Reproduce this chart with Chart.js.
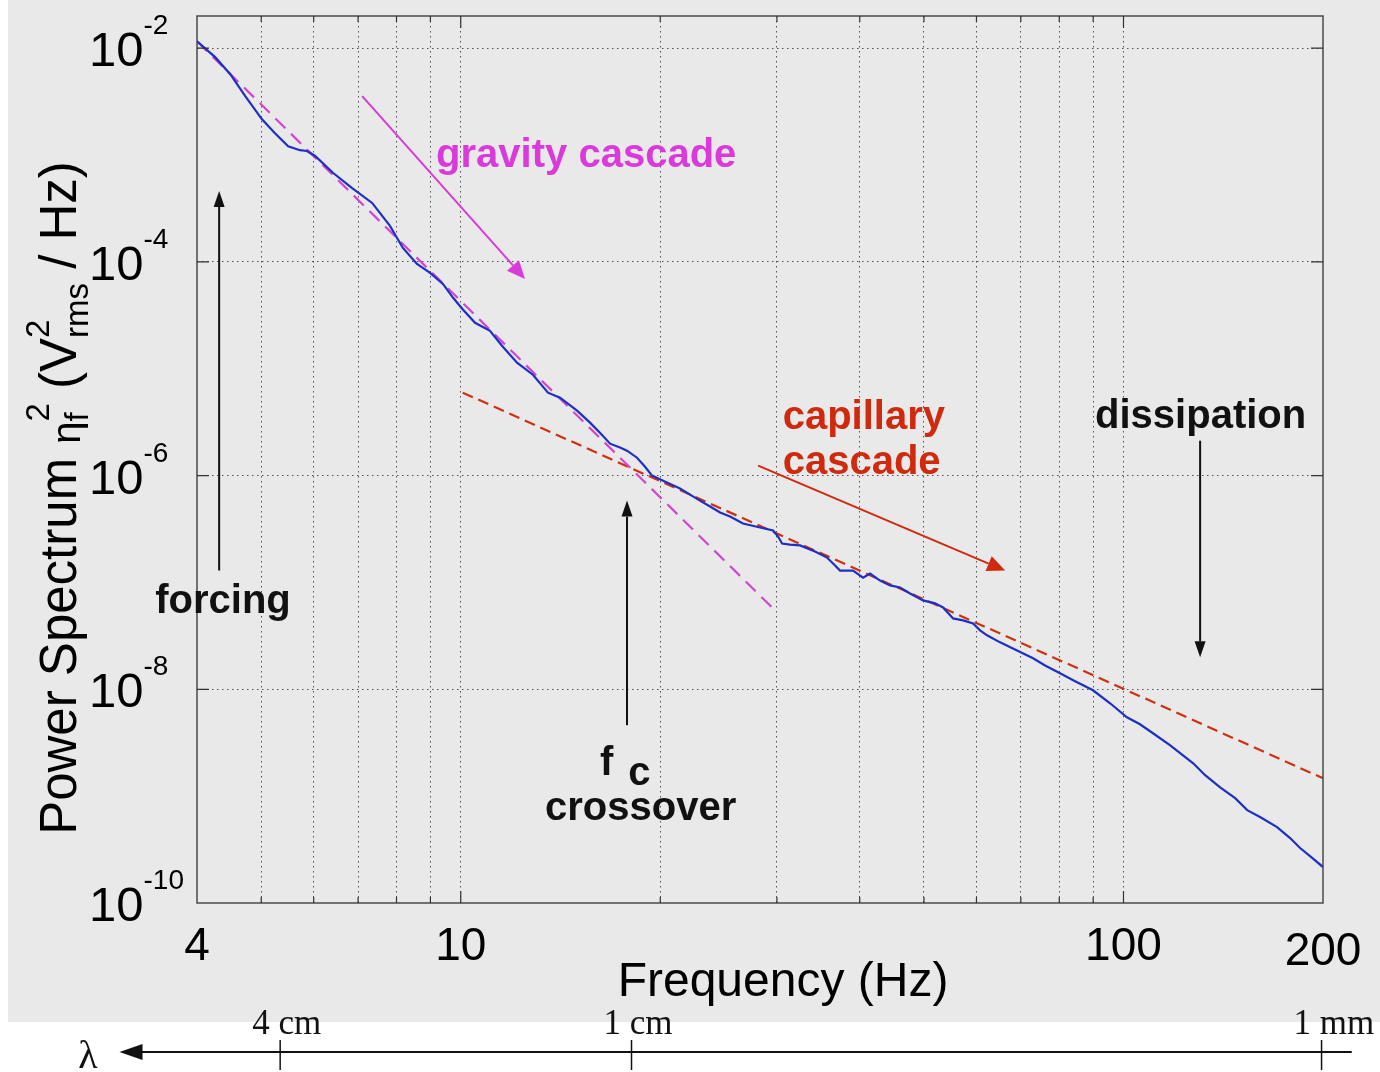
<!DOCTYPE html>
<html><head><meta charset="utf-8">
<script src="https://cdn.jsdelivr.net/npm/chart.js@4"></script>
<style>html,body{margin:0;padding:0;background:#fff}canvas{display:block}</style>
</head><body>
<canvas id="c" width="1380" height="1072"></canvas>
<script>
// ---- measured spectrum (Hz, V_rms^2/Hz) ----
const freq = [4.00,4.26,4.49,4.73,5.01,5.24,5.49,5.72,5.86,6.03,6.42,6.85,7.35,7.82,8.18,8.59,8.99,9.40,9.74,10.05,
  10.51,11.07,11.54,12.16,12.85,13.54,14.12,14.98,15.67,16.22,16.80,17.39,17.82,18.45,18.97,19.44,20.20,21.42,22.18,22.96,
  23.78,24.62,25.49,26.66,28.29,29.60,30.12,30.54,31.39,32.51,34.24,35.70,36.71,37.35,39.08,40.46,41.46,42.92,44.44,46.01,
  47.64,49.84,51.96,53.43,55.32,57.28,59.30,60.75,62.25,65.13,69.09,73.04,76.15,80.21,84.52,89.96,95.45,101.2,105.9,110.8,
  117.5,127.4,132.8,139.9,147.4,153.7,160.7,170.5,178.4,184.7,192.6,200];
const power = [1.16e-2,8.24e-3,5.71e-3,3.56e-3,2.17e-3,1.61e-3,1.21e-3,1.11e-3,1.09e-3,9.79e-4,6.79e-4,4.92e-4,3.56e-4,2.17e-4,1.35e-4,9.57e-5,7.89e-5,6.22e-5,4.61e-5,3.64e-5,
  2.69e-5,2.26e-5,1.64e-5,1.14e-5,8.79e-6,5.97e-6,5.36e-6,4.05e-6,3.13e-6,2.52e-6,1.99e-6,1.83e-6,1.71e-6,1.47e-6,1.21e-6,1.00e-6,8.97e-7,7.57e-7,6.64e-7,5.83e-7,
  5.13e-7,4.51e-7,4.14e-7,3.56e-7,3.27e-7,3.06e-7,2.69e-7,2.31e-7,2.26e-7,2.22e-7,1.95e-7,1.71e-7,1.44e-7,1.29e-7,1.29e-7,1.11e-7,1.21e-7,1.04e-7,9.38e-8,8.97e-8,
  7.89e-8,6.79e-8,6.37e-8,5.83e-8,4.61e-8,4.42e-8,4.14e-8,3.56e-8,3.20e-8,2.75e-8,2.31e-8,1.95e-8,1.67e-8,1.41e-8,1.19e-8,9.79e-9,7.40e-9,5.47e-9,4.71e-9,3.88e-9,
  3.00e-9,2.03e-9,1.57e-9,1.21e-9,9.57e-10,7.40e-10,6.37e-10,5.13e-10,4.05e-10,3.27e-10,2.64e-10,2.17e-10];
// ---- power-law guides ----
const gravityFitFreq = [4, 29.5];
const gravityFitPower = [1.16e-2, 5.83e-8];
const capillaryFitFreq = [10.07, 200];
const capillaryFitPower = [5.97e-6, 1.47e-9];
// ---- axes ----
const xTickValues = [4, 10, 100, 200];
const xTickLabels = ['4', '10', '100', '200'];
const xGridValues = [5,6,7,8,9,10,20,30,40,50,60,70,80,90,100];
const xMajorValues = [10, 100];
const yTickValues = [1e-2, 1e-4, 1e-6, 1e-8, 1e-10];
const yTickExponents = ['-2', '-4', '-6', '-8', '-10'];
const yGridValues = [1e-2, 1e-4, 1e-6, 1e-8];
// ---- wavelength axis ----
const lambdaFreq = [5.34, 18.1, 199];
const lambdaLabels = ['4 cm', '1 cm', '1 mm'];
const lambdaAxisRange = [3.12, 221];
// ---- annotations ----
const arrowFromFreq = [7.10, 28.1, 130.5, 4.32, 17.82];
const arrowFromPower = [3.56e-3, 1.24e-6, 2.12e-6, 1.29e-7, 4.61e-9];
const arrowToFreq = [12.5, 66.3, 130.5, 4.32, 17.82];
const arrowToPower = [6.93e-5, 1.29e-7, 1.99e-8, 4.61e-4, 5.83e-7];
const noteText = ['gravity cascade', 'capillary', 'cascade', 'dissipation', 'forcing', 'f', 'c', 'crossover'];
const noteFreq = [9.18, 30.6, 30.6, 90.6, 3.46, 16.22, 17.9, 13.4];
const notePower = [7.73e-4, 2.75e-6, 1.04e-6, 2.80e-6, 5.13e-8, 1.57e-9, 1.27e-9, 5.97e-10];

const MAG = '#d93ad9', RED = '#cf2a0e', BLK = '#111111', BLUE = '#1d2fc4';
const arrowColor = [MAG, RED, BLK, BLK, BLK];
const noteColor = [MAG, RED, RED, BLK, BLK, BLK, BLK, BLK];

const SANS = '"Liberation Sans", Arial, Helvetica, sans-serif';
const SERIF = '"Liberation Serif", "Times New Roman", serif';

function pts(xs, ys) { return xs.map((v, i) => ({x: v, y: ys[i]})); }

function arrow(ctx, x1, y1, x2, y2, color, w, hl, hw) {
  const a = Math.atan2(y2 - y1, x2 - x1);
  const bx = x2 - hl * Math.cos(a), by = y2 - hl * Math.sin(a);
  ctx.save();
  ctx.strokeStyle = color; ctx.fillStyle = color; ctx.lineWidth = w; ctx.setLineDash([]);
  ctx.beginPath(); ctx.moveTo(x1, y1); ctx.lineTo(bx, by); ctx.stroke();
  ctx.beginPath();
  ctx.moveTo(x2, y2);
  ctx.lineTo(bx + hw * Math.sin(a), by - hw * Math.cos(a));
  ctx.lineTo(bx - hw * Math.sin(a), by + hw * Math.cos(a));
  ctx.closePath(); ctx.fill();
  ctx.restore();
}

const decor = {
  id: 'decor',
  beforeDraw(chart) {
    const ctx = chart.ctx;
    ctx.save();
    ctx.fillStyle = '#ffffff'; ctx.fillRect(0, 0, chart.width, chart.height);
    ctx.fillStyle = '#e9e9e9'; ctx.fillRect(8, 0, chart.width - 8, 1022);
    ctx.restore();
  },
  afterDraw(chart) {
    const ctx = chart.ctx, xs = chart.scales.x, ys = chart.scales.y, ca = chart.chartArea;
    ctx.save();
    // frame
    ctx.strokeStyle = '#4a4a4a'; ctx.lineWidth = 1.5; ctx.setLineDash([]);
    ctx.strokeRect(ca.left, ca.top, ca.right - ca.left, ca.bottom - ca.top);
    // tick marks
    ctx.strokeStyle = '#333'; ctx.lineWidth = 1.2;
    ctx.beginPath();
    yGridValues.forEach(v => {
      const y = ys.getPixelForValue(v);
      ctx.moveTo(ca.left, y); ctx.lineTo(ca.left + 12, y);
      ctx.moveTo(ca.right, y); ctx.lineTo(ca.right - 12, y);
    });
    xGridValues.forEach(v => {
      const x = xs.getPixelForValue(v), L = xMajorValues.includes(v) ? 12 : 6;
      ctx.moveTo(x, ca.bottom); ctx.lineTo(x, ca.bottom - L);
      ctx.moveTo(x, ca.top); ctx.lineTo(x, ca.top + L);
    });
    ctx.stroke();
    // y tick labels 10^n
    ctx.fillStyle = '#000'; ctx.textAlign = 'left'; ctx.textBaseline = 'alphabetic';
    yTickValues.forEach((v, i) => {
      const y = ys.getPixelForValue(v);
      ctx.font = '49px ' + SANS;
      ctx.fillText('10', 89, y + 18);
      const w = ctx.measureText('10').width;
      ctx.font = '28px ' + SANS;
      ctx.fillText(yTickExponents[i], 89 + w, y - 14);
    });
    // x tick labels
    ctx.font = '46px ' + SANS; ctx.textAlign = 'center';
    xTickValues.forEach((v, i) => {
      const x = xs.getPixelForValue(v);
      ctx.fillText(xTickLabels[i], x, ca.bottom + (i === 3 ? 62 : 57));
    });
    // x title
    ctx.font = '48px ' + SANS;
    ctx.fillText('Frequency (Hz)', 783, 996);
    // y title (rotated, rich text)
    const segs = [
      {t: 'Power Spectrum ', s: 51, dy: 0},
      {t: '\u03B7', s: 40, dy: 4},
      {stack: [{t: '2', s: 33, dy: -27}, {t: 'f', s: 33, dy: 12}]},
      {t: ' (V', s: 51, dy: 0},
      {stack: [{t: '2', s: 33, dy: -27}, {t: 'rms', s: 33, dy: 12}]},
      {t: ' / Hz)', s: 51, dy: 0}
    ];
    const widths = segs.map(sg => {
      if (sg.stack) {
        return Math.max(...sg.stack.map(p => { ctx.font = p.s + 'px ' + SANS; return ctx.measureText(p.t).width; }));
      }
      ctx.font = sg.s + 'px ' + SANS; return ctx.measureText(sg.t).width;
    });
    const total = widths.reduce((a, b) => a + b, 0);
    ctx.save();
    ctx.translate(76, 498);
    ctx.rotate(-Math.PI / 2);
    ctx.textAlign = 'left';
    let cx = -total / 2;
    segs.forEach((sg, i) => {
      const parts = sg.stack ? sg.stack : [sg];
      parts.forEach(p => { ctx.font = p.s + 'px ' + SANS; ctx.fillText(p.t, cx, p.dy); });
      cx += widths[i];
    });
    ctx.restore();
    // arrows
    arrowFromFreq.forEach((f, i) => {
      const x1 = xs.getPixelForValue(f), y1 = ys.getPixelForValue(arrowFromPower[i]);
      const x2 = xs.getPixelForValue(arrowToFreq[i]), y2 = ys.getPixelForValue(arrowToPower[i]);
      const col = arrowColor[i];
      if (i < 2) arrow(ctx, x1, y1, x2, y2, col, 2, 18, 8);
      else arrow(ctx, x1, y1, x2, y2, col, 2, 16, 5.5);
    });
    // notes
    ctx.textAlign = 'left';
    noteText.forEach((t, i) => {
      ctx.font = 'bold 40px ' + SANS;
      ctx.fillStyle = noteColor[i];
      ctx.fillText(t, xs.getPixelForValue(noteFreq[i]), ys.getPixelForValue(notePower[i]));
    });
    // wavelength axis
    const yl = 1052;
    const lx1 = xs.getPixelForValue(lambdaAxisRange[0]), lx2 = xs.getPixelForValue(lambdaAxisRange[1]);
    ctx.strokeStyle = '#111'; ctx.lineWidth = 2;
    ctx.beginPath(); ctx.moveTo(lx1 + 10, yl); ctx.lineTo(lx2, yl); ctx.stroke();
    ctx.fillStyle = '#111';
    ctx.beginPath(); ctx.moveTo(lx1 - 6, yl); ctx.lineTo(lx1 + 17, yl - 8); ctx.lineTo(lx1 + 17, yl + 8); ctx.closePath(); ctx.fill();
    ctx.font = '40px ' + SERIF; ctx.textAlign = 'center';
    ctx.fillText('\u03BB', 88, 1068);
    ctx.font = '35px ' + SERIF; ctx.textAlign = 'left';
    ctx.lineWidth = 1.5;
    lambdaFreq.forEach((f, i) => {
      const x = xs.getPixelForValue(f);
      ctx.beginPath(); ctx.moveTo(x, 1040); ctx.lineTo(x, 1070); ctx.stroke();
      ctx.fillText(lambdaLabels[i], x - 28, 1034);
    });
    ctx.restore();
  }
};

new Chart(document.getElementById('c'), {
  type: 'line',
  data: {
    datasets: [
      {data: pts(freq, power), borderColor: BLUE, borderWidth: 2.2, pointRadius: 0, tension: 0, order: 1},
      {data: pts(gravityFitFreq, gravityFitPower), borderColor: '#d444d4', borderWidth: 2.2, borderDash: [14, 8], pointRadius: 0, order: 2},
      {data: pts(capillaryFitFreq, capillaryFitPower), borderColor: '#d0300f', borderWidth: 2.2, borderDash: [11, 6], pointRadius: 0, order: 2}
    ]
  },
  options: {
    responsive: false, animation: false, devicePixelRatio: 1,
    layout: {padding: {left: 197, right: 57, top: 16, bottom: 169}},
    plugins: {legend: {display: false}, tooltip: {enabled: false}},
    scales: {
      x: {
        type: 'logarithmic', min: 4, max: 200,
        afterBuildTicks: s => { s.ticks = xGridValues.map(v => ({value: v})); },
        ticks: {display: false},
        grid: {color: 'rgba(30,30,30,0.75)', lineWidth: 1, drawTicks: false},
        border: {display: false, dash: [1.5, 3.5]}
      },
      y: {
        type: 'logarithmic', min: 1e-10, max: 0.02,
        afterBuildTicks: s => { s.ticks = yGridValues.map(v => ({value: v})); },
        ticks: {display: false},
        grid: {color: 'rgba(30,30,30,0.75)', lineWidth: 1, drawTicks: false},
        border: {display: false, dash: [1.5, 3.5]}
      }
    }
  },
  plugins: [decor]
});
</script>
</body></html>
